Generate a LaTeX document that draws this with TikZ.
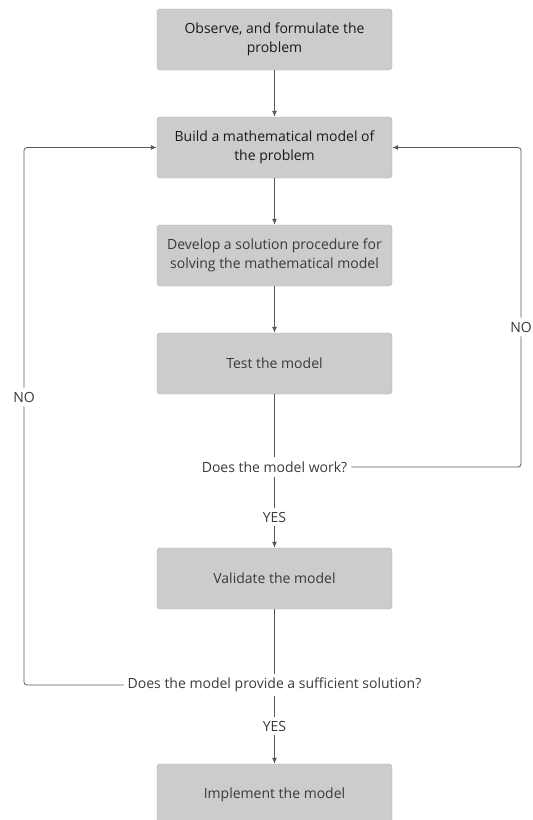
\documentclass[tikz,border=0pt]{standalone}
\usepackage{fontspec}
\setmainfont{Open Sans}
\usetikzlibrary{arrows.meta}
\definecolor{boxfill}{HTML}{CCCCCC}
\definecolor{boxline}{HTML}{B0B0B0}
\definecolor{linecol}{HTML}{595959}
\definecolor{txtdark}{HTML}{1A1A1A}
\definecolor{txtgray}{HTML}{3A3A3A}
\begin{document}
\begin{tikzpicture}[x=1pt,y=-1pt,
  stepbox/.style={draw=boxline,fill=boxfill,rounded corners=3pt,minimum width=235pt,minimum height=61pt,
    align=center,font=\fontsize{14}{19}\selectfont,text=txtgray,inner sep=0pt},
  lbl/.style={font=\fontsize{14}{19}\selectfont,text=txtgray,inner sep=4pt},
  conn/.style={draw=linecol,line width=0.8pt,rounded corners=3pt},
  arr/.style={conn,-{Latex[length=6pt,width=5pt]}}]
\useasboundingbox (0,0) rectangle (533,820);
\node[stepbox,text=txtdark] (b1) at (274.5,39.5) {Observe, and formulate the\\problem};
\node[stepbox,text=txtdark] (b2) at (274.5,147.5) {Build a mathematical model of\\the problem};
\node[stepbox] (b3) at (274.5,255.5) {Develop a solution procedure for\\solving the mathematical model};
\node[stepbox] (b4) at (274.5,363.5) {Test the model};
\node[lbl] (d1) at (274.5,467) {Does the model work?};
\node[lbl] (y1) at (274.5,517) {YES};
\node[stepbox] (b5) at (274.5,578.5) {Validate the model};
\node[lbl] (d2) at (274.5,685) {Does the model provide a sufficient solution?};
\node[lbl] (y2) at (274.5,726) {YES};
\node[stepbox] (b6) at (274.5,794.5) {Implement the model};
\node[lbl] (noR) at (521,327) {NO};
\node[lbl] (noL) at (24,397) {NO};
\draw[arr] (b1) -- (b2);
\draw[arr] (b2) -- (b3);
\draw[arr] (b3) -- (b4);
\draw[conn] (b4) -- (d1);
\draw[conn] (d1) -- (y1);
\draw[arr] (y1) -- (b5);
\draw[conn] (b5) -- (d2);
\draw[conn] (d2) -- (y2);
\draw[arr] (y2) -- (b6);
\draw[conn] (d1.east) -| (noR.south);
\draw[arr] (noR.north) |- (b2.east);
\draw[conn] (d2.west) -| (noL.south);
\draw[arr] (noL.north) |- (b2.west);
\end{tikzpicture}
\end{document}
